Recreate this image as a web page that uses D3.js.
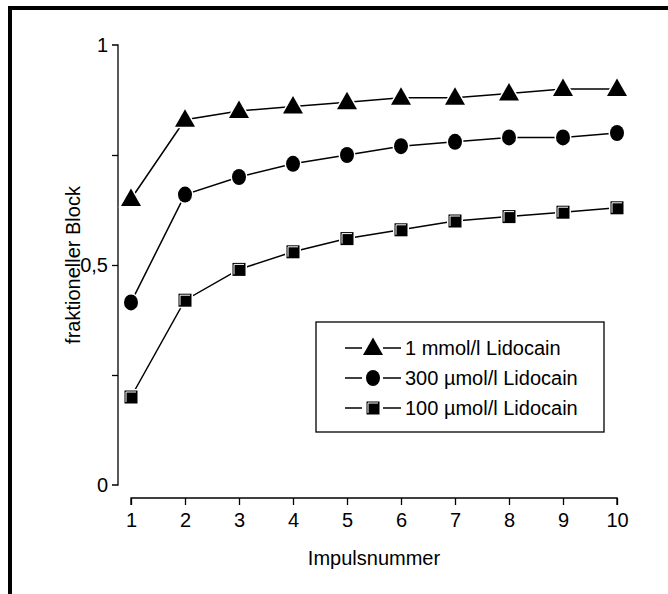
<!DOCTYPE html>
<html>
<head>
<meta charset="utf-8">
<script src="https://cdn.jsdelivr.net/npm/d3@7/dist/d3.min.js"></script>
<style>
html,body{margin:0;padding:0;background:#fff;}
svg{display:block;font-family:"Liberation Sans",Arial,sans-serif;}
</style>
</head>
<body>
<svg id="chart" width="668" height="594"></svg>
<script>
const impulses = [1,2,3,4,5,6,7,8,9,10];
const lido1mmol = [0.65,0.83,0.85,0.86,0.87,0.88,0.88,0.89,0.90,0.90];
const lido300 = [0.415,0.66,0.70,0.73,0.75,0.77,0.78,0.79,0.79,0.80];
const lido100 = [0.20,0.42,0.49,0.53,0.56,0.58,0.60,0.61,0.62,0.63];
const seriesNames = ["1 mmol/l Lidocain","300 µmol/l Lidocain","100 µmol/l Lidocain"];
const seriesShapes = ["triangle","circle","square"];
const yTicks = [0,0.25,0.5,0.75,1];
const yTickLabels = {"0":"0","0.5":"0,5","1":"1"};
const xLabel = "Impulsnummer";
const yLabel = "fraktioneller Block";

const FS = 20;
const series = [lido1mmol, lido300, lido100].map((v,i)=>({name:seriesNames[i], shape:seriesShapes[i], values:v}));

const svg = d3.select("#chart");

// frame (top and left thick borders)
svg.append("line").attr("x1",8).attr("x2",668).attr("y1",8).attr("y2",8).attr("stroke","#000").attr("stroke-width",4);
svg.append("line").attr("x1",10).attr("x2",10).attr("y1",6).attr("y2",594).attr("stroke","#000").attr("stroke-width",4);

const x = d3.scaleLinear().domain([1,10]).range([131,617]);
const y = d3.scaleLinear().domain([0,1]).range([485,45]);

// Y axis
const yAxis = d3.axisLeft(y).tickValues(yTicks).tickSize(6).tickPadding(4)
  .tickFormat(d => yTickLabels[String(d)] || "");
const gy = svg.append("g").attr("transform","translate(118,0)").call(yAxis);
gy.select(".domain").attr("d", `M-6,${y(1)}H0V${y(0)}H-6`).attr("stroke","#000").attr("stroke-width",1.3);
gy.selectAll(".tick line").attr("stroke","#000").attr("stroke-width",1.3);
gy.selectAll(".tick").filter(d=>d===0||d===1).select("line").remove();
gy.selectAll(".tick text").attr("font-size",FS).attr("fill","#000").attr("font-family","Liberation Sans, Arial, sans-serif");

// X axis
const xAxis = d3.axisBottom(x).tickValues(impulses).tickSize(7).tickPadding(8).tickFormat(d3.format("d"));
const gx = svg.append("g").attr("transform","translate(0,498)").call(xAxis);
gx.select(".domain").attr("d", `M${x(1)},7V0H${x(10)}V7`).attr("stroke","#000").attr("stroke-width",1.3);
gx.selectAll(".tick line").attr("stroke","#000").attr("stroke-width",1.3);
gx.selectAll(".tick text").attr("font-size",FS).attr("fill","#000").attr("font-family","Liberation Sans, Arial, sans-serif");

svg.append("text").attr("x",374).attr("y",565).attr("text-anchor","middle").attr("font-size",FS).text(xLabel);
svg.append("text").attr("transform","translate(80,265) rotate(-90)").attr("text-anchor","middle").attr("font-size",FS).text(yLabel);

// markers
function drawMarker(g, shape){
  if(shape==="triangle"){
    g.append("path").attr("d","M0,-10.5L10,7L-10,7Z").attr("fill","#000").attr("stroke","#fff").attr("stroke-width",3).attr("paint-order","stroke");
  } else if(shape==="circle"){
    g.append("ellipse").attr("rx",7).attr("ry",8).attr("fill","#000").attr("stroke","#fff").attr("stroke-width",3).attr("paint-order","stroke");
  } else {
    g.append("rect").attr("x",-6.5).attr("y",-6.5).attr("width",13).attr("height",13).attr("fill","#000").attr("stroke","#fff").attr("stroke-width",3).attr("paint-order","stroke");
    g.append("path").attr("d","M-5,5V-5H5").attr("fill","none").attr("stroke","#fff").attr("stroke-width",1);
  }
}

const line = d3.line().x((d,i)=>x(impulses[i])).y(d=>y(d));
series.forEach(s=>{
  svg.append("path").attr("d", line(s.values)).attr("fill","none").attr("stroke","#000").attr("stroke-width",1.5);
});
series.forEach(s=>{
  s.values.forEach((v,i)=>{
    const g = svg.append("g").attr("transform",`translate(${x(impulses[i])},${y(v)})`);
    drawMarker(g, s.shape);
  });
});

// legend
const lg = svg.append("g");
lg.append("rect").attr("x",316).attr("y",322).attr("width",288).attr("height",110).attr("fill","#fff").attr("stroke","#000").attr("stroke-width",1.3);
series.forEach((s,i)=>{
  const cy = 348 + i*30;
  lg.append("line").attr("x1",345).attr("x2",362).attr("y1",cy).attr("y2",cy).attr("stroke","#000").attr("stroke-width",1.5);
  lg.append("line").attr("x1",383).attr("x2",401).attr("y1",cy).attr("y2",cy).attr("stroke","#000").attr("stroke-width",1.5);
  const g = lg.append("g").attr("transform",`translate(373,${cy})`);
  drawMarker(g, s.shape);
  lg.append("text").attr("x",405).attr("y",cy+7).attr("font-size",FS).text(s.name);
});
</script>
</body>
</html>
